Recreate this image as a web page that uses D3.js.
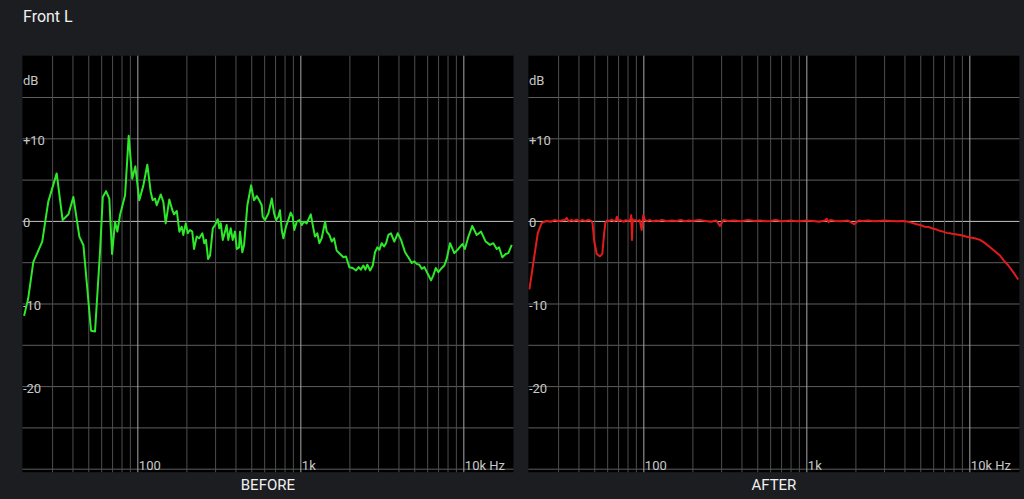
<!DOCTYPE html>
<html>
<head>
<meta charset="utf-8">
<script src="https://cdn.jsdelivr.net/npm/d3@7"></script>
<style>
  html, body { margin: 0; padding: 0; background: #1b1d21; }
  svg { display: block; }
  text { font-family: Roboto, "Noto Sans", sans-serif; }
</style>
</head>
<body>
<svg id="chart" width="1024" height="499"></svg>
<script>
// ---------------- DATA ----------------
const chartTitle = "Front L";
const panelNames = ["BEFORE", "AFTER"];

const beforeFreq = [20.2, 21.4, 23.0, 26.1, 28.4, 32.0, 34.8, 37.8, 40.5, 44.1, 46.7, 52.0, 55.0, 59.0, 61.4, 64.3, 67.3, 70.0, 73.0, 75.4, 78.3, 84.1, 88.5, 93.1, 97.2,
  102.8, 108.9, 115.1, 120.8, 124.2, 128.4, 131.5, 139.3, 144.4, 149.3, 157.1, 164.0, 168.0, 174.6, 181.1, 187.2, 191.4, 198.2, 203.8, 210.4, 217.3, 222.8, 231.2, 239.9,
  250.6, 257.6, 263.7, 271.6, 279.3, 290.4, 299.9, 311.2, 318.4, 325.1, 334.2, 345.1, 353.2, 361.4, 374.1, 384.6, 397.2, 407.4, 420.7, 426.6, 440.6, 451.9, 473.2, 498.9,
  520.0, 540.8, 559.8, 579.4, 587.5, 606.7, 636.8, 668.3, 690.2, 709.6, 732.8, 749.9, 769.1, 787.0, 816.6, 843.3, 873.0, 897.5, 918.4, 950.6, 986.3,
  1021, 1054, 1094, 1159, 1191, 1230, 1271, 1309, 1352, 1419, 1452, 1507, 1560, 1611, 1671, 1754, 1837, 1905, 1998, 2096, 2197, 2280, 2348, 2436, 2506, 2577, 2679, 2782,
  2871, 2966, 3052, 3155, 3263, 3357, 3467, 3599, 3772, 3959, 4149, 4390, 4597, 4823, 5003, 5172, 5370, 5556, 5765, 6049, 6339, 6546, 6776, 7031, 7296, 7645, 7907,
  8285, 8805, 9311, 9863, 10230, 10740, 11350, 12080, 12850, 13710, 14580, 15280, 16030, 16560, 17340, 18200, 18880, 19820];
const beforeDb = [-11.5, -9.4, -5.0, -2.5, 2.3, 5.75, 0.1, 0.8, 2.9, -1.9, -2.95, -13.3, -13.4, -3.8, 2.9, 3.6, 2.7, -4.0, -0.1, -1.3, 0.7, 3.1, 10.3, 5.1, 6.6,
  2.5, 4.3, 6.8, 3.5, 2.5, 2.7, 1.9, 3.2, 2.3, -0.3, 2.6, 1.3, 0.8, 1.2, -1.3, -0.7, -1.7, -0.3, -1.5, -1.1, -1.3, -3.4, -1.9, -2.1,
  -1.5, -2.7, -2.3, -4.6, -4.2, -0.9, -0.5, 0.2, -0.9, -0.3, -2.3, -1.3, -0.5, -2.3, -0.9, -2.3, -1.3, -3.4, -3.2, -1.3, -3.8, -2.9, 1.9, 4.3,
  2.5, 3.0, 2.5, 1.9, 0.5, 0.1, 0.9, 2.7, 0.9, 0.1, 0.5, 1.3, -1.1, -2.1, -0.7, 0.1, 1.0, 0.5, -1.1, -0.1, 0.1,
  -0.5, -0.1, -0.3, 0.8, -0.5, -1.9, -1.5, -2.7, -2.1, -0.1, -1.3, -1.7, -2.5, -2.1, -3.6, -4.0, -4.4, -4.3, -5.6, -5.7, -6.0, -5.6, -5.9, -5.4, -5.9, -5.3, -6.0, -5.4,
  -3.8, -3.2, -3.5, -2.7, -3.1, -2.7, -1.7, -1.5, -2.5, -1.5, -2.3, -3.8, -4.4, -5.1, -4.9, -5.2, -5.3, -5.8, -5.6, -6.4, -7.2, -6.6, -5.7, -6.2, -5.8, -5.4, -4.6,
  -2.7, -3.9, -3.4, -2.8, -3.4, -1.9, -0.6, -1.7, -1.3, -2.5, -2.9, -2.7, -3.4, -3.2, -4.4, -4.0, -3.9, -2.9];

const afterFreq = [20, 21.1, 22.5, 23.8, 25.5, 27, 28.5, 30, 31.5, 33, 33.9, 34.8, 36, 37.5, 39, 40.5, 42, 44, 46, 48, 48.8, 50, 51.8, 54.2, 56, 57.5, 58.5,
  60, 62, 64, 66, 68, 68.7, 70, 72, 74, 76, 78, 80, 82, 83.5, 84.3, 85.2, 86, 87, 89, 92, 95, 97.7, 100, 101.4, 103, 106, 110, 115, 120, 125, 130, 140, 150,
  160, 170, 180, 190, 200, 220, 240, 260, 280, 295, 310, 330, 360, 400, 440, 480, 520, 560, 600, 650, 700, 750, 800, 870, 940, 1000, 1100, 1200, 1300, 1334,
  1370, 1400, 1500, 1650, 1800, 1963, 2100, 2200, 2400, 2600, 2800, 3000, 3300, 3600, 3936, 4300, 4753, 5000, 5300, 5650, 6010, 6300, 6600, 6900, 7261, 7600,
  8000, 8770, 9400, 10090, 10800, 11630, 12500, 13400, 14400, 15420, 16300, 17340, 18600, 19950];
const afterDb = [-8.3, -5.2, -1.5, -0.25, 0, -0.1, 0.1, 0, 0.05, 0.1, 0.35, -0.05, 0.1, 0, 0.15, -0.05, 0.1, 0, 0.1, 0, -0.3, -2.5, -4.0, -4.3, -4.0, -1.5, -0.2,
  0.05, 0, 0.15, 0, 0.1, 0.5, 0, 0.1, 0, -0.1, 0.1, 0, 0.05, 0.2, 0.7, -2.3, 0.2, 0, 0.1, 0, 0.1, -1.1, 0.7, 0.3, 0.05, 0, 0.1, -0.05, 0.05, 0, 0.1, -0.05, 0.05,
  0, 0.1, -0.05, 0.05, 0, 0.1, 0, -0.1, 0.05, -0.6, 0.1, 0, 0.05, -0.05, 0.1, 0, 0.05, -0.05, 0, 0.1, -0.05, 0, 0.05, -0.05, 0, 0.05, 0, -0.1, 0.05, 0.25,
  -0.15, 0.1, 0, -0.05, 0.05, -0.4, 0.05, 0, 0.05, -0.05, 0, 0.05, 0, -0.05, 0, -0.15, -0.4, -0.5, -0.7, -0.75, -0.95, -1.05, -1.2, -1.3, -1.45, -1.5,
  -1.6, -1.7, -1.85, -2.0, -2.1, -2.3, -2.7, -3.2, -3.7, -4.2, -4.8, -5.4, -6.2, -7.1];

const yGridValues = [-30, -25, -20, -15, -10, -5, 0, 5, 10, 15];
const yLabelValues = [10, 0, -10, -20];
const yLabelTexts = ["+10", "0", "-10", "-20"];
const yUnit = "dB";
const xGridValues = [30, 40, 50, 60, 70, 80, 90, 100, 200, 300, 400, 500, 600, 700, 800, 900,
  1000, 2000, 3000, 4000, 5000, 6000, 7000, 8000, 9000, 10000];
const xMajorValues = [100, 1000, 10000];
const xLabelTexts = ["100", "1k", "10k Hz"];

// ---------------- DRAW ----------------
const svg = d3.select("#chart");
svg.append("rect").attr("width", 1024).attr("height", 499).attr("fill", "#1b1d21");

svg.append("text").attr("x", 23).attr("y", 21.5)
  .attr("fill", "#f0f0f0").attr("font-size", 16).text(chartTitle);

const y = d3.scaleLinear().domain([-30, 20]).range([468.7, 55.7]);
const panelLeft = [23.4, 529.4];
const panelSpan = 489;
const series = [
  { freq: beforeFreq, db: beforeDb, color: "#2ee82a" },
  { freq: afterFreq, db: afterDb, color: "#e41a1a" }
];
const rectTop = y(20), rectBottom = y(-30) + 3.5;

panelNames.forEach((name, i) => {
  const x = d3.scaleLog().domain([20, 20000]).range([panelLeft[i], panelLeft[i] + panelSpan]);
  const g = svg.append("g");
  const rx0 = panelLeft[i] - 1, rx1 = panelLeft[i] + panelSpan + 1;
  g.append("rect").attr("x", rx0).attr("y", rectTop).attr("width", rx1 - rx0)
    .attr("height", rectBottom - rectTop).attr("fill", "#000");

  // horizontal grid via axis
  const yGrid = g.append("g").attr("transform", `translate(${rx0},0)`)
    .call(d3.axisRight(y).tickValues(yGridValues).tickSize(rx1 - rx0).tickFormat(""));
  yGrid.select(".domain").remove();
  yGrid.selectAll(".tick line")
    .attr("stroke", d => d === 0 ? "#c4c4c4" : "#5e5e5e").attr("stroke-width", 1);

  // vertical grid via axis
  const xGrid = g.append("g").attr("transform", `translate(0,${rectBottom})`)
    .call(d3.axisBottom(x).tickValues(xGridValues).tickSize(-(rectBottom - rectTop)).tickFormat(""));
  xGrid.select(".domain").remove();
  xGrid.selectAll(".tick line")
    .attr("stroke", d => xMajorValues.includes(d) ? "#a8a8a8" : "#4e4e4e").attr("stroke-width", 1);

  // y labels
  g.selectAll(".ylab").data(yLabelValues).enter().append("text")
    .attr("x", rx0 + 0.5).attr("y", d => y(d) + 6.5)
    .attr("fill", "#c8c8c8").attr("font-size", 13)
    .text((d, k) => yLabelTexts[k]);
  g.append("text").attr("x", rx0 + 0.5).attr("y", y(17.1) + 5)
    .attr("fill", "#c8c8c8").attr("font-size", 13).text(yUnit);

  // x labels
  g.selectAll(".xlab").data(xMajorValues).enter().append("text")
    .attr("x", d => x(d) + 1.5).attr("y", 469.5)
    .attr("fill", "#c8c8c8").attr("font-size", 13)
    .text((d, k) => xLabelTexts[k]);

  // curve
  const s = series[i];
  const pts = s.freq.map((f, k) => [f, s.db[k]]);
  const clipId = "clip" + i;
  g.append("clipPath").attr("id", clipId).append("rect")
    .attr("x", rx0).attr("y", rectTop).attr("width", rx1 - rx0).attr("height", rectBottom - rectTop);
  g.append("path").datum(pts)
    .attr("clip-path", `url(#${clipId})`)
    .attr("fill", "none").attr("stroke", s.color).attr("stroke-width", 2)
    .attr("stroke-linejoin", "round")
    .attr("d", d3.line().x(d => x(d[0])).y(d => y(d[1])));

  // panel name
  g.append("text").attr("x", (rx0 + rx1) / 2).attr("y", 490)
    .attr("text-anchor", "middle").attr("fill", "#f0f0f0").attr("font-size", 15)
    .text(name);
});
</script>
</body>
</html>
